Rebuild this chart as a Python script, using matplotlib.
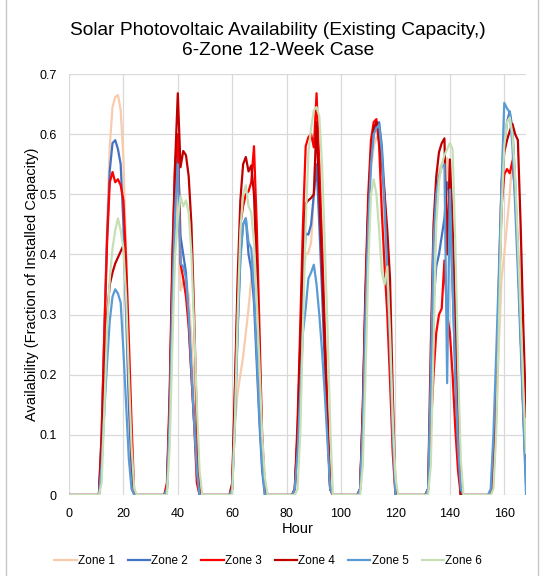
import matplotlib
matplotlib.use("Agg")
import matplotlib.pyplot as plt
from matplotlib.lines import Line2D

plt.rcParams['font.family'] = ['Liberation Sans', 'DejaVu Sans']

hours = list(range(0, 169))
zone_names = ["Zone 1", "Zone 2", "Zone 3", "Zone 4", "Zone 5", "Zone 6"]
zone_colors = ["#F8CBAD", "#4472C4", "#FF0000", "#C00000", "#5B9BD5", "#C5E0B4"]

# daylight segments: first hour of each segment (values outside are 0)
day_start = [11, 35, 59, 82, 106, 131, 154]

zone1_days = [
    [0, 0.10, 0.28, 0.45, 0.58, 0.645, 0.662, 0.665, 0.64, 0.56, 0.40, 0.22, 0.07, 0, 0],
    [0, 0.01, 0.10, 0.28, 0.42, 0.50, 0.34, 0.355, 0.36, 0.33, 0.26, 0.17, 0.08, 0.01, 0],
    [0, 0.02, 0.12, 0.17, 0.20, 0.23, 0.27, 0.31, 0.36, 0.40, 0.33, 0.20, 0.08, 0.01, 0],
    [0, 0.01, 0.10, 0.24, 0.36, 0.40, 0.403, 0.42, 0.50, 0.62, 0.50, 0.38, 0.25, 0.12, 0.01, 0],
    [0, 0.01, 0.12, 0.30, 0.45, 0.54, 0.58, 0.595, 0.59, 0.55, 0.45, 0.35, 0.22, 0.10, 0.01, 0],
    [0, 0.01, 0.20, 0.43, 0.51, 0.54, 0.55, 0.555, 0.56, 0.50, 0.38, 0.22, 0.08, 0, 0],
    [0, 0, 0.02, 0.12, 0.25, 0.36, 0.40, 0.45, 0.50, 0.56, 0.50, 0.42, 0.35, 0.25, 0.12],
]
zone2_days = [
    [0, 0.10, 0.27, 0.43, 0.54, 0.585, 0.59, 0.575, 0.55, 0.45, 0.30, 0.15, 0.04, 0, 0],
    [0, 0.01, 0.14, 0.36, 0.50, 0.585, 0.43, 0.40, 0.37, 0.29, 0.20, 0.12, 0.05, 0, 0],
    [0, 0.01, 0.13, 0.28, 0.40, 0.45, 0.46, 0.40, 0.375, 0.32, 0.22, 0.12, 0.04, 0, 0],
    [0, 0.01, 0.09, 0.22, 0.36, 0.435, 0.433, 0.45, 0.50, 0.55, 0.45, 0.34, 0.22, 0.11, 0.01, 0],
    [0, 0.01, 0.13, 0.32, 0.47, 0.56, 0.60, 0.615, 0.62, 0.58, 0.50, 0.40, 0.28, 0.12, 0, 0],
    [0, 0.01, 0.18, 0.32, 0.38, 0.40, 0.43, 0.46, 0.52, 0.50, 0.35, 0.20, 0.07, 0, 0],
    [0, 0, 0.05, 0.18, 0.33, 0.48, 0.58, 0.62, 0.638, 0.61, 0.52, 0.40, 0.27, 0.14, 0.02],
]
zone3_days = [
    [0, 0.10, 0.27, 0.42, 0.52, 0.537, 0.52, 0.525, 0.515, 0.49, 0.39, 0.26, 0.12, 0, 0],
    [0, 0.02, 0.17, 0.40, 0.55, 0.60, 0.385, 0.36, 0.33, 0.28, 0.20, 0.12, 0.02, 0, 0],
    [0, 0.01, 0.17, 0.33, 0.45, 0.48, 0.50, 0.505, 0.52, 0.58, 0.45, 0.28, 0.10, 0.01, 0],
    [0, 0.01, 0.12, 0.28, 0.45, 0.58, 0.595, 0.60, 0.578, 0.668, 0.55, 0.42, 0.28, 0.14, 0.01, 0],
    [0, 0.01, 0.15, 0.35, 0.50, 0.59, 0.62, 0.625, 0.58, 0.47, 0.38, 0.30, 0.19, 0.07, 0, 0],
    [0, 0.01, 0.11, 0.20, 0.27, 0.30, 0.31, 0.39, 0.30, 0.27, 0.20, 0.11, 0.04, 0, 0],
    [0, 0, 0.03, 0.14, 0.33, 0.48, 0.533, 0.542, 0.535, 0.555, 0.50, 0.40, 0.27, 0.14, 0.03],
]
zone4_days = [
    [0, 0.08, 0.20, 0.30, 0.35, 0.37, 0.385, 0.395, 0.405, 0.415, 0.36, 0.20, 0.07, 0, 0],
    [0, 0.01, 0.15, 0.38, 0.55, 0.668, 0.545, 0.572, 0.565, 0.53, 0.45, 0.30, 0.12, 0.01, 0],
    [0, 0.02, 0.18, 0.36, 0.49, 0.55, 0.562, 0.538, 0.548, 0.50, 0.38, 0.24, 0.09, 0.01, 0],
    [0, 0.01, 0.10, 0.25, 0.40, 0.485, 0.49, 0.494, 0.50, 0.62, 0.50, 0.38, 0.25, 0.12, 0.01, 0],
    [0, 0.01, 0.14, 0.33, 0.48, 0.57, 0.61, 0.62, 0.60, 0.55, 0.50, 0.44, 0.36, 0.17, 0.01, 0],
    [0, 0.01, 0.25, 0.45, 0.53, 0.57, 0.585, 0.593, 0.40, 0.558, 0.45, 0.30, 0.12, 0, 0],
    [0, 0, 0.03, 0.15, 0.35, 0.52, 0.57, 0.59, 0.605, 0.617, 0.60, 0.59, 0.45, 0.28, 0.13],
]
zone5_days = [
    [0, 0.05, 0.14, 0.22, 0.29, 0.33, 0.342, 0.335, 0.32, 0.24, 0.15, 0.06, 0.01, 0, 0],
    [0, 0.01, 0.13, 0.33, 0.47, 0.55, 0.385, 0.38, 0.36, 0.30, 0.21, 0.12, 0.04, 0, 0],
    [0, 0.01, 0.12, 0.27, 0.39, 0.45, 0.46, 0.42, 0.41, 0.34, 0.24, 0.13, 0.05, 0, 0],
    [0, 0.01, 0.07, 0.17, 0.27, 0.31, 0.36, 0.37, 0.383, 0.35, 0.30, 0.24, 0.17, 0.09, 0.01, 0],
    [0, 0.01, 0.12, 0.30, 0.45, 0.55, 0.60, 0.61, 0.615, 0.57, 0.48, 0.37, 0.25, 0.10, 0, 0],
    [0, 0.01, 0.20, 0.42, 0.50, 0.53, 0.545, 0.55, 0.186, 0.508, 0.35, 0.20, 0.08, 0.01, 0],
    [0, 0.01, 0.10, 0.23, 0.37, 0.52, 0.652, 0.643, 0.636, 0.58, 0.48, 0.37, 0.25, 0.13, 0],
]
zone6_days = [
    [0, 0.02, 0.14, 0.28, 0.36, 0.41, 0.44, 0.46, 0.44, 0.41, 0.33, 0.20, 0.08, 0.01, 0],
    [0, 0, 0.08, 0.25, 0.40, 0.46, 0.497, 0.48, 0.49, 0.47, 0.40, 0.28, 0.15, 0.04, 0],
    [0, 0, 0.12, 0.30, 0.44, 0.50, 0.515, 0.48, 0.47, 0.42, 0.33, 0.22, 0.10, 0.03, 0],
    [0, 0, 0.01, 0.10, 0.28, 0.45, 0.57, 0.61, 0.64, 0.645, 0.63, 0.55, 0.42, 0.28, 0.12, 0],
    [0, 0, 0.05, 0.20, 0.38, 0.50, 0.525, 0.50, 0.44, 0.37, 0.35, 0.38, 0.27, 0.13, 0.03, 0],
    [0, 0, 0.05, 0.25, 0.45, 0.52, 0.55, 0.565, 0.575, 0.585, 0.575, 0.42, 0.22, 0.06, 0],
    [0, 0, 0.01, 0.10, 0.28, 0.47, 0.58, 0.62, 0.628, 0.60, 0.53, 0.42, 0.30, 0.18, 0.07],
]


def build(days):
    vals = [0.0] * len(hours)
    for start, seg in zip(day_start, days):
        for i, v in enumerate(seg):
            if start + i < len(vals):
                vals[start + i] = v
    return vals


all_days = [zone1_days, zone2_days, zone3_days, zone4_days, zone5_days, zone6_days]
series = [build(d) for d in all_days]

fig = plt.figure(figsize=(5.44, 5.76), dpi=100)
ax = fig.add_axes([0.1268, 0.1406, 0.8402, 0.7309])

for name, col, vals in zip(zone_names, zone_colors, series):
    ax.plot(hours, vals, color=col, lw=1.6, label=name, solid_joinstyle='round')

ax.set_xlim(0, 168)
ax.set_ylim(0, 0.7)
ax.set_xticks(range(0, 161, 20))
ax.set_yticks([0, 0.1, 0.2, 0.3, 0.4, 0.5, 0.6, 0.7])
ax.set_yticklabels(["0", "0.1", "0.2", "0.3", "0.4", "0.5", "0.6", "0.7"])
ax.grid(True, color="#D9D9D9", lw=0.9)
ax.set_axisbelow(True)
for s in ax.spines.values():
    s.set_visible(False)
ax.tick_params(length=0, labelsize=9, colors="#000000", pad=9)

ax.set_xlabel("Hour", fontsize=10.5, labelpad=2)
ax.set_ylabel("Availability (Fraction of Installed Capacity)", fontsize=10.5, labelpad=0)

fig.text(0.511, 0.930, "Solar Photovoltaic Availability (Existing Capacity,)\n6-Zone 12-Week Case",
         ha="center", va="center", fontsize=13.8, linespacing=1.2)

handles = [Line2D([], [], color=c, lw=1.6) for c in zone_colors]
fig.legend(handles, zone_names, loc="center", bbox_to_anchor=(0.493, 0.026), ncol=6,
           frameon=False, fontsize=8.5, handlelength=1.9, handletextpad=0.1,
           columnspacing=1.1)

# chart-area border edges visible in the reference
fig.add_artist(Line2D([6 / 544, 6 / 544], [0, 1], transform=fig.transFigure,
                      color="#C8C8C8", lw=1.0))
fig.add_artist(Line2D([538 / 544, 538 / 544], [0, 1], transform=fig.transFigure,
                      color="#C8C8C8", lw=1.0))

fig.savefig("out.png", dpi=100)
